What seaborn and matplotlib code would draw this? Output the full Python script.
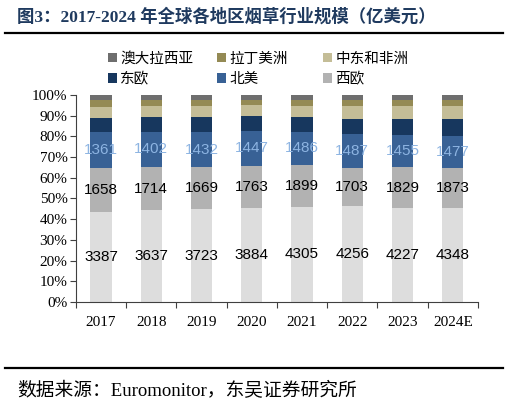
import matplotlib
matplotlib.use("Agg")
import matplotlib.pyplot as plt
import seaborn as sns
import numpy as np
import pandas as pd
from matplotlib.patches import Patch
from matplotlib.lines import Line2D

years = ["2017", "2018", "2019", "2020", "2021", "2022", "2023", "2024E"]
# bottom-to-top stacking order
asia_pacific = [3387, 3637, 3723, 3884, 4305, 4256, 4227, 4348]
western_europe = [1658, 1714, 1669, 1763, 1899, 1703, 1829, 1873]
north_america = [1361, 1402, 1432, 1447, 1486, 1487, 1455, 1477]
eastern_europe = [563, 566, 588, 609, 662, 696, 719, 771]
mea = [415, 435, 454, 470, 511, 577, 570, 617]
latin_america = [250, 251, 227, 208, 241, 237, 270, 247]
australasia = [188, 197, 199, 206, 241, 237, 240, 247]

series_names = ["亚太", "西欧", "北美", "东欧", "中东和非洲", "拉丁美洲", "澳大拉西亚"]
series_vals = [asia_pacific, western_europe, north_america, eastern_europe, mea, latin_america, australasia]
colors = ["#DDDDDD", "#B2B2B2", "#386195", "#17375E", "#C4BD97", "#948A54", "#6E6E6E"]
label_colors = ["black", "black", "#8DB4E2"]

vals = np.array(series_vals, dtype=float)
tot = vals.sum(axis=0)
pct = vals / tot * 100
cum = np.cumsum(pct, axis=0)

fig = plt.figure(figsize=(5.09, 4.01), dpi=100)
ax = fig.add_axes([0.149, 0.247, 0.79, 0.516])

for i in range(len(series_names) - 1, -1, -1):
    df = pd.DataFrame({"year": years, "v": cum[i]})
    sns.barplot(data=df, x="year", y="v", color=colors[i], saturation=1,
                width=0.42, ax=ax, linewidth=0)

# data labels on the three lowest segments
for i in range(3):
    lower = cum[i - 1] if i > 0 else np.zeros(len(years))
    mid = (lower + cum[i]) / 2
    for j in range(len(years)):
        ax.text(j, mid[j], f"{int(series_vals[i][j])}", ha="center", va="center",
                fontsize=11, color=label_colors[i], family="Liberation Sans")

ax.set_xlim(-0.5, len(years) - 0.5)
ax.set_ylim(0, 100)
ax.set_yticks(np.arange(0, 101, 10))
ax.set_yticklabels([f"{v}%" for v in range(0, 101, 10)], family="Liberation Serif", fontsize=11)
ax.set_xticks(range(len(years)))
ax.set_xticklabels(years, family="Liberation Serif", fontsize=11)
ax.set_xticks(np.arange(-0.5, len(years), 1), minor=True)
ax.tick_params(axis="x", which="major", length=0, pad=10)
ax.tick_params(axis="x", which="minor", length=4, width=0.8, direction="out", color="#404040")
ax.tick_params(axis="y", length=4, width=0.8, direction="out", color="#404040", pad=2)
ax.set_xlabel("")
ax.set_ylabel("")
for s in ["top", "right"]:
    ax.spines[s].set_visible(False)
for s in ["left", "bottom"]:
    ax.spines[s].set_color("#404040")
    ax.spines[s].set_linewidth(0.8)
ax.grid(False)
ax.set_facecolor("white")

# legend: three equal-width columns, two rows (Excel style)
legend_cols = [["澳大拉西亚", "东欧"], ["拉丁美洲", "北美"], ["中东和非洲", "西欧"]]
col_x = [0.212, 0.426, 0.635]
for names, x in zip(legend_cols, col_x):
    handles = [Patch(facecolor=colors[series_names.index(n)], edgecolor="none") for n in names]
    leg = fig.legend(handles, names, loc="center left", bbox_to_anchor=(x, 0.828), ncol=1,
                     frameon=False, prop={"family": "Noto Sans CJK SC", "size": 10.5},
                     handlelength=0.6, handleheight=0.6, handletextpad=0.25,
                     labelspacing=0.45, borderpad=0, borderaxespad=0)

# title and rules
fig.text(0.033, 0.958, "图3：2017-2024 年全球各地区烟草行业规模（亿美元）",
         family=["Liberation Serif", "Noto Sans CJK SC"], fontweight="bold",
         fontsize=12.5, color="#1F3A5F", va="center", ha="left")
fig.add_artist(Line2D([0.01, 0.988], [0.917, 0.917], color="black", linewidth=1.6))
fig.add_artist(Line2D([0.01, 0.988], [0.082, 0.082], color="black", linewidth=1.6))
fig.text(0.033, 0.025, "数据来源：Euromonitor，东吴证券研究所",
         family=["Liberation Serif", "Noto Sans CJK SC"], fontsize=13.5,
         color="black", va="center", ha="left")

fig.savefig("out.png", dpi=100, facecolor="white")
